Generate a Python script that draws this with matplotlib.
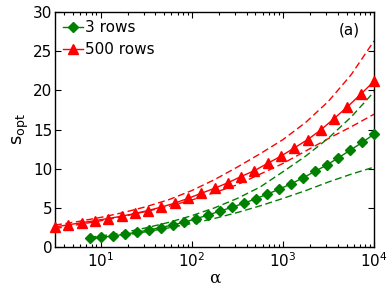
import numpy as np
import matplotlib
matplotlib.use('Agg')
import matplotlib.pyplot as plt

# alpha values of the markers
alpha_3 = [7.59, 10.2, 13.8, 18.6, 25.1, 33.9, 45.7, 61.7, 83.2, 112, 151, 204, 275,
           372, 501, 676, 912, 1230, 1660, 2239, 3020, 4074, 5495, 7413, 10000]
alpha_500 = [3.16, 4.42, 6.19, 8.66, 12.1, 17.0, 23.7, 33.2, 46.4, 64.9, 90.9, 127, 178,
             249, 348, 487, 681, 953, 1334, 1866, 2610, 3651, 5108, 7147, 10000]

s_3 = [1.12, 1.24, 1.42, 1.64, 1.9, 2.18, 2.48, 2.82, 3.18, 3.62, 4.08, 4.58, 5.07,
       5.58, 6.15, 6.76, 7.38, 8.07, 8.82, 9.65, 10.45, 11.4, 12.36, 13.35, 14.4]
s_500 = [2.56, 2.84, 3.1, 3.37, 3.64, 3.93, 4.28, 4.66, 5.1, 5.6, 6.2, 6.85, 7.5,
         8.2, 9.0, 9.75, 10.68, 11.6, 12.65, 13.7, 14.95, 16.4, 17.9, 19.5, 21.15]

# bounds (dashed curves)
alpha_b500 = [3.16, 5.62, 10, 17.8, 31.6, 56.2, 100, 178, 316, 562, 1000, 1778, 3162, 5623, 10000]
upper_500 = [2.8, 3.25, 3.78, 4.4, 5.15, 6.05, 7.2, 8.6, 10.2, 11.9, 13.7, 15.9, 18.6, 22.0, 26.3]
lower_500 = [2.35, 2.85, 3.35, 3.9, 4.55, 5.2, 6.0, 6.95, 7.95, 9.3, 10.66, 12.25, 13.85, 15.35, 16.95]

alpha_b3 = [7.59, 10, 17.8, 31.6, 56.2, 100, 178, 316, 562, 1000, 1778, 3162, 5623, 10000]
upper_3 = [1.25, 1.4, 1.85, 2.45, 3.15, 4.0, 5.0, 6.2, 7.65, 9.6, 11.6, 13.9, 16.6, 19.8]
lower_3 = [1.0, 1.15, 1.5, 1.95, 2.45, 3.0, 3.65, 4.4, 5.25, 6.2, 7.2, 8.3, 9.3, 10.2]

green = '#008000'
red = '#ff0000'

plt.rcParams['font.family'] = ['DejaVu Sans']
plt.rcParams['font.size'] = 11

fig = plt.figure(figsize=(3.9, 2.92), dpi=100)
ax = fig.add_axes([0.141, 0.154, 0.818, 0.805])

dash = (5, 2.6)
ax.plot(alpha_b500, upper_500, color=red, lw=1.0, dashes=dash)
ax.plot(alpha_b500, lower_500, color=red, lw=1.0, dashes=dash)
ax.plot(alpha_b3, upper_3, color=green, lw=1.0, dashes=dash)
ax.plot(alpha_b3, lower_3, color=green, lw=1.0, dashes=dash)

ax.plot(alpha_3, s_3, color=green, marker='D', ms=5.4, mec=green, mfc=green,
        lw=1.0, label='3 rows', clip_on=False, zorder=3)
ax.plot(alpha_500, s_500, color=red, marker='^', ms=6.8, mec=red, mfc=red,
        lw=1.0, label='500 rows', clip_on=False, zorder=3)

ax.set_xscale('log')
ax.set_xlim(10 ** 0.5, 1e4)
ax.set_ylim(0, 30)
ax.set_yticks([0, 5, 10, 15, 20, 25, 30])
ax.set_xticks([10, 100, 1000, 10000])

ax.tick_params(which='both', direction='in', top=True, right=True, labelsize=11)
ax.tick_params(which='major', length=4, width=0.8)
ax.tick_params(which='minor', length=2.2, width=0.8)
ax.tick_params(axis='y', pad=2)
ax.tick_params(axis='x', pad=3)
for sp in ax.spines.values():
    sp.set_linewidth(1.0)

ax.set_xlabel('α', fontsize=12, family=['DejaVu Serif'], labelpad=0)
ax.set_ylabel(r'$\mathregular{s_{opt}}$', fontsize=13, labelpad=1)

ax.text(0.955, 0.925, '(a)', transform=ax.transAxes, ha='right', va='center', fontsize=11)

ax.legend(loc='upper left', frameon=False, numpoints=1, handlelength=1.3,
          handletextpad=0.1, borderaxespad=0.15, borderpad=0.4, labelspacing=0.45,
          fontsize=11)

fig.savefig('out.png', dpi=100)
